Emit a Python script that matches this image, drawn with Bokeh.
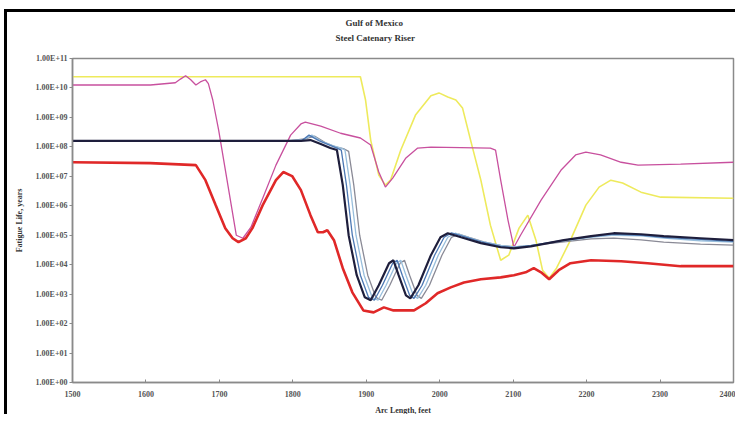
from bokeh.plotting import figure
from bokeh.models import Range1d, FixedTicker, CustomJSTickFormatter, Title
from bokeh.embed import file_html
from bokeh.resources import INLINE

# ---------------- data ----------------
title_lines = ["Gulf of Mexico", "Steel Catenary Riser"]
x_ticks = [1500, 1600, 1700, 1800, 1900, 2000, 2100, 2200, 2300, 2400]
y_ticks = [1e0, 1e1, 1e2, 1e3, 1e4, 1e5, 1e6, 1e7, 1e8, 1e9, 1e10, 1e11]

yellow_x = [1500, 1892, 1899, 1906, 1917, 1926, 1933, 1947, 1967, 1988, 1999, 2011, 2022, 2031,
            2042, 2056, 2069, 2083, 2094, 2108, 2120, 2131, 2140, 2149, 2159, 2178, 2199, 2217,
            2233, 2249, 2274, 2301, 2400]
yellow_y = [2.4e10, 2.4e10, 3.9e9, 1.7e8, 1.1e7, 5.0e6, 7.4e6, 7.8e7, 1.2e9, 5.4e9, 6.8e9, 4.9e9,
            3.9e9, 2.1e9, 1.7e8, 7.4e6, 2.2e5, 1.41e4, 2.1e4, 1.74e5, 4.8e5, 6.8e4, 6.5e3, 3.5e3,
            7.6e3, 6.8e4, 1.05e6, 4.3e6, 7.4e6, 5.9e6, 2.9e6, 1.96e6, 1.8e6]

magenta_x = [1500, 1606, 1640, 1647, 1654, 1661, 1668, 1674, 1681, 1685, 1691, 1699, 1707, 1715,
             1723, 1732, 1743, 1759, 1777, 1797, 1811, 1817, 1838, 1865, 1892, 1906, 1917, 1926,
             1936, 1954, 1970, 1988, 2069, 2076, 2083, 2093, 2101, 2110, 2138, 2165, 2185, 2199,
             2219, 2247, 2270, 2328, 2400]
magenta_y = [1.26e10, 1.26e10, 1.5e10, 2.0e10, 2.6e10, 1.9e10, 1.26e10, 1.6e10, 1.9e10, 1.4e10,
             3.9e9, 3.7e8, 2.4e7, 1.55e6, 1.0e5, 7.9e4, 1.87e5, 1.8e6, 2.4e7, 2.5e8, 6.0e8, 6.9e8,
             5.1e8, 2.9e8, 2.0e8, 1.15e8, 1.4e7, 4.3e6, 8.7e6, 4.2e7, 9.1e7, 9.8e7, 9.1e7, 7.8e7,
             7.4e6, 3.2e5, 3.9e4, 1.0e5, 1.55e6, 1.6e7, 5.3e7, 6.6e7, 5.3e7, 3.0e7, 2.4e7, 2.6e7,
             3.0e7]

red_x = [1500, 1606, 1668, 1681, 1695, 1708, 1718, 1726, 1736, 1745, 1759, 1777, 1787, 1799,
         1811, 1824, 1834, 1841, 1847, 1856, 1868, 1881, 1896, 1910, 1924, 1937, 1965, 1981,
         1997, 2015, 2033, 2056, 2083, 2101, 2117, 2128, 2138, 2149, 2162, 2178, 2206, 2247,
         2283, 2328, 2400]
red_y = [3.0e7, 2.8e7, 2.4e7, 7.4e6, 1.05e6, 1.74e5, 7.9e4, 5.8e4, 7.9e4, 1.74e5, 1.05e6, 7.4e6,
         1.4e7, 1.02e7, 3.4e6, 4.8e5, 1.26e5, 1.26e5, 1.48e5, 6.8e4, 7.6e3, 1.15e3, 280, 240, 355,
         280, 280, 490, 1.07e3, 1.7e3, 2.5e3, 3.2e3, 3.7e3, 4.4e3, 5.5e3, 7.6e3, 5.5e3, 3.2e3,
         6.5e3, 1.12e4, 1.41e4, 1.31e4, 1.12e4, 8.9e3, 8.9e3]

black_x = [1500, 1783, 1811, 1824, 1838, 1851, 1860, 1868, 1876, 1887, 1898, 1906, 1917, 1931,
           1937, 1944, 1954, 1960, 1971, 1988, 2001, 2011, 2029, 2056, 2083, 2101, 2124, 2169,
           2206, 2237, 2274, 2305, 2355, 2400]
black_y = [1.6e8, 1.6e8, 1.6e8, 1.7e8, 1.25e8, 9.1e7, 7.8e7, 5.0e6, 1.0e5, 4.4e3, 780, 620,
           2.0e3, 1.12e4, 1.41e4, 4.4e3, 910, 720, 2.0e3, 2.1e4, 8.5e4, 1.17e5, 8.5e4, 5.4e4,
           3.9e4, 3.6e4, 4.2e4, 6.8e4, 9.3e4, 1.17e5, 1.08e5, 9.3e4, 7.9e4, 6.8e4]

blue_x = [1500, 1783, 1811, 1822, 1836, 1850, 1860, 1866, 1873, 1881, 1892, 1903, 1911, 1922,
          1936, 1942, 1949, 1959, 1965, 1976, 1993, 2006, 2016, 2033, 2056, 2083, 2101, 2124,
          2169, 2206, 2237, 2274, 2305, 2355, 2400]
blue_y = [1.6e8, 1.6e8, 1.55e8, 2.5e8, 1.6e8, 1.15e8, 9.1e7, 7.8e7, 5.0e6, 1.0e5, 4.4e3, 780,
          620, 2.0e3, 1.12e4, 1.41e4, 4.4e3, 910, 720, 2.0e3, 2.1e4, 8.5e4, 1.2e5, 9.0e4, 6.0e4,
          4.2e4, 3.8e4, 4.4e4, 6.8e4, 9.0e4, 1.1e5, 1.0e5, 8.5e4, 7.2e4, 6.2e4]

lightblue_x = [1500, 1790, 1815, 1826, 1840, 1854, 1866, 1871, 1878, 1886, 1897, 1908, 1916,
               1927, 1941, 1947, 1954, 1964, 1970, 1981, 1998, 2011, 2021, 2036, 2056, 2083,
               2101, 2124, 2169, 2206, 2237, 2274, 2305, 2355, 2400]
lightblue_y = [1.6e8, 1.6e8, 1.8e8, 2.5e8, 1.5e8, 1.1e8, 9.1e7, 7.8e7, 5.0e6, 1.0e5, 4.4e3, 780,
               620, 2.0e3, 1.12e4, 1.41e4, 4.4e3, 910, 720, 2.0e3, 2.1e4, 8.5e4, 1.17e5, 9.0e4,
               6.2e4, 4.5e4, 4.0e4, 4.5e4, 6.5e4, 8.5e4, 1.0e5, 9.5e4, 8.0e4, 6.5e4, 5.8e4]

gray_x = [1500, 1795, 1818, 1830, 1844, 1858, 1870, 1876, 1883, 1891, 1902, 1913, 1921, 1932,
          1946, 1952, 1959, 1969, 1975, 1986, 2003, 2016, 2026, 2040, 2060, 2083, 2101, 2124,
          2169, 2206, 2237, 2274, 2305, 2355, 2400]
gray_y = [1.6e8, 1.6e8, 1.9e8, 2.3e8, 1.4e8, 1.0e8, 8.5e7, 7.0e7, 5.0e6, 1.0e5, 4.4e3, 780, 620,
          2.0e3, 1.12e4, 1.41e4, 4.4e3, 910, 720, 2.0e3, 2.1e4, 8.5e4, 1.1e5, 8.5e4, 6.0e4, 4.5e4,
          4.0e4, 4.4e4, 6.0e4, 7.5e4, 8.0e4, 7.0e4, 5.8e4, 5.0e4, 4.6e4]

# ---------------- figure ----------------
SERIF = "Liberation Serif"

p = figure(width=731, height=405, output_backend="svg", toolbar_location=None,
           y_axis_type="log", x_range=Range1d(x_ticks[0], x_ticks[-1]),
           y_range=Range1d(y_ticks[0], y_ticks[-1]),
           min_border_left=65, min_border_right=5, min_border_top=46, min_border_bottom=35)
p.title = None
p.xgrid.grid_line_color = None
p.ygrid.grid_line_color = None
p.outline_line_color = "#8a8a8a"
p.outline_line_width = 1.5
p.background_fill_color = "white"
p.border_fill_color = "white"
p.styles = {"margin-left": "4px", "margin-top": "9px",
            "border-left": "3px solid black", "border-top": "3px solid black"}

# two title lines: inner one carries an empty second line as spacing below it
p.add_layout(Title(text=title_lines[1] + "\n ", align="left", offset=263,
                   text_font=SERIF, text_font_size="9px", text_font_style="bold",
                   text_color="#333333", text_line_height=1.6, standoff=0), "above")
p.add_layout(Title(text=title_lines[0], align="left", offset=273,
                   text_font=SERIF, text_font_size="9px", text_font_style="bold",
                   text_color="#333333", text_line_height=1.0, standoff=6), "above")

# axes
p.xaxis.ticker = FixedTicker(ticks=x_ticks)
p.yaxis.ticker = FixedTicker(ticks=y_ticks)
p.yaxis.formatter = CustomJSTickFormatter(code="""
const e = Math.round(Math.log10(tick));
const s = e < 0 ? "-" : "+";
const a = Math.abs(e);
return "1.00E" + s + (a < 10 ? "0" + a : "" + a);
""")
for ax in (p.xaxis[0], p.yaxis[0]):
    ax.axis_line_color = "#8a8a8a"
    ax.axis_line_width = 1.5
    ax.major_tick_line_color = "#8a8a8a"
    ax.minor_tick_line_color = None
    ax.major_label_text_font = SERIF
    ax.major_label_text_font_size = "8px"
    ax.major_label_text_font_style = "bold"
    ax.major_label_text_color = "#555555"
    ax.axis_label_text_font = SERIF
    ax.axis_label_text_font_size = "8px"
    ax.axis_label_text_font_style = "bold"
    ax.axis_label_text_color = "#333333"
p.xaxis.major_tick_in = 3
p.xaxis.major_tick_out = 0
p.xaxis.major_label_standoff = 8
p.xaxis.axis_label = "Arc Length, feet"
p.xaxis.axis_label_standoff = 6
p.yaxis.major_tick_in = 0
p.yaxis.major_tick_out = 3
p.yaxis.major_label_standoff = 2
p.yaxis.axis_label = "Fatigue Life, years"
p.yaxis.axis_label_standoff = 9

# series
p.line(yellow_x, yellow_y, line_color="#eeea5c", line_width=1.6)
p.line(magenta_x, magenta_y, line_color="#c8509e", line_width=1.3)
p.line(gray_x, gray_y, line_color="#8a8a96", line_width=1.3)
p.line(lightblue_x, lightblue_y, line_color="#98bedc", line_width=1.3)
p.line(blue_x, blue_y, line_color="#4c78b4", line_width=1.3)
p.line(black_x, black_y, line_color="#1e1e3c", line_width=2.2)
p.line(red_x, red_y, line_color="#e02828", line_width=2.6)

open("out.html", "w").write(file_html(p, INLINE))
